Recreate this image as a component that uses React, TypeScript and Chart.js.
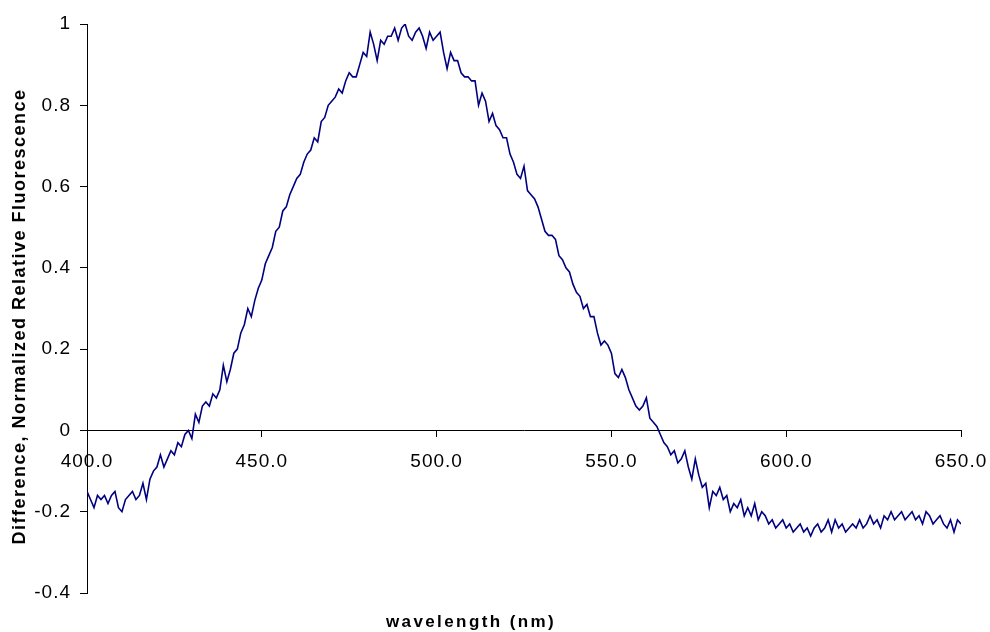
import React, { useEffect, useRef } from "react";
import { Chart, registerables } from "chart.js";

Chart.register(...registerables);

const wavelengths: number[] = [];
for (let w = 400; w <= 650; w++) wavelengths.push(w);

const fluorescence: number[] = [
  // 400-409
  -0.15, -0.17, -0.19, -0.16, -0.17, -0.16, -0.18, -0.16, -0.15, -0.19,
  // 410-419
  -0.20, -0.17, -0.16, -0.15, -0.17, -0.16, -0.13, -0.17, -0.12, -0.10,
  // 420-429
  -0.09, -0.06, -0.09, -0.07, -0.05, -0.06, -0.03, -0.04, -0.01, 0.00,
  // 430-439
  -0.02, 0.04, 0.02, 0.06, 0.07, 0.06, 0.09, 0.08, 0.10, 0.16,
  // 440-449
  0.12, 0.15, 0.19, 0.20, 0.24, 0.26, 0.30, 0.28, 0.32, 0.35,
  // 450-459
  0.37, 0.41, 0.43, 0.45, 0.49, 0.50, 0.54, 0.55, 0.58, 0.60,
  // 460-469
  0.62, 0.63, 0.66, 0.68, 0.69, 0.72, 0.71, 0.76, 0.77, 0.80,
  // 470-479
  0.81, 0.82, 0.84, 0.83, 0.86, 0.88, 0.87, 0.87, 0.90, 0.93,
  // 480-489
  0.92, 0.98, 0.95, 0.91, 0.96, 0.95, 0.97, 0.97, 0.99, 0.96,
  // 490-499
  0.99, 1.00, 0.97, 0.96, 0.98, 0.99, 0.97, 0.94, 0.98, 0.96,
  // 500-509
  0.97, 0.98, 0.93, 0.89, 0.93, 0.91, 0.91, 0.88, 0.87, 0.87,
  // 510-519
  0.86, 0.86, 0.80, 0.83, 0.81, 0.76, 0.78, 0.75, 0.74, 0.72,
  // 520-529
  0.72, 0.68, 0.66, 0.63, 0.62, 0.65, 0.59, 0.58, 0.57, 0.55,
  // 530-539
  0.52, 0.49, 0.48, 0.48, 0.47, 0.43, 0.42, 0.40, 0.39, 0.36,
  // 540-549
  0.34, 0.33, 0.30, 0.31, 0.28, 0.28, 0.24, 0.21, 0.22, 0.21,
  // 550-559
  0.19, 0.14, 0.13, 0.15, 0.13, 0.10, 0.08, 0.06, 0.05, 0.06,
  // 560-569
  0.08, 0.03, 0.02, 0.01, -0.01, -0.03, -0.04, -0.06, -0.05, -0.08,
  // 570-579
  -0.07, -0.05, -0.09, -0.12, -0.07, -0.11, -0.14, -0.13, -0.19, -0.15,
  // 580-589
  -0.16, -0.14, -0.17, -0.16, -0.20, -0.18, -0.19, -0.17, -0.21, -0.19,
  // 590-599
  -0.21, -0.18, -0.22, -0.20, -0.21, -0.23, -0.22, -0.24, -0.23, -0.22,
  // 600-609
  -0.24, -0.23, -0.25, -0.24, -0.23, -0.25, -0.24, -0.26, -0.24, -0.23,
  // 610-619
  -0.25, -0.24, -0.22, -0.25, -0.22, -0.24, -0.23, -0.25, -0.24, -0.23,
  // 620-629
  -0.24, -0.22, -0.24, -0.23, -0.21, -0.23, -0.22, -0.24, -0.21, -0.22,
  // 630-639
  -0.20, -0.22, -0.21, -0.20, -0.22, -0.21, -0.20, -0.22, -0.21, -0.23,
  // 640-650
  -0.20, -0.21, -0.23, -0.22, -0.21, -0.23, -0.24, -0.22, -0.25, -0.22, -0.23,
];

const xTicks = [400, 450, 500, 550, 600, 650];
const yTicks = [-0.4, -0.2, 0, 0.2, 0.4, 0.6, 0.8, 1];
const xTitle = "wavelength (nm)";
const yTitle = "Difference, Normalized Relative Fluorescence";

const FONT = "'Liberation Sans', Arial, sans-serif";

export default function App() {
  const canvasRef = useRef<HTMLCanvasElement | null>(null);

  useEffect(() => {
    const canvas = canvasRef.current;
    if (!canvas) return;

    const titlePlugin = {
      id: "axisTitles",
      beforeDraw(chart: any) {
        chart.ctx.letterSpacing = "1px";
      },
      afterDraw(chart: any) {
        const ctx = chart.ctx as CanvasRenderingContext2D;
        const area = chart.chartArea;
        ctx.save();
        ctx.fillStyle = "#000";
        ctx.font = `bold 17px ${FONT}`;
        (ctx as any).letterSpacing = "2.4px";
        ctx.textAlign = "center";
        ctx.textBaseline = "middle";
        ctx.fillText(xTitle, 471, 622);
        ctx.translate(20, (area.top + area.bottom) / 2 + 8);
        ctx.rotate(-Math.PI / 2);
        ctx.font = `bold 18px ${FONT}`;
        (ctx as any).letterSpacing = "1.5px";
        ctx.fillText(yTitle, 0, 0);
        ctx.restore();
        (ctx as any).letterSpacing = "0px";
      },
    };

    const chart = new Chart(canvas, {
      type: "line",
      data: {
        datasets: [
          {
            data: wavelengths.map((w, i) => ({ x: w, y: fluorescence[i] })),
            borderColor: "#000080",
            borderWidth: 1.6,
            pointRadius: 0,
            fill: false,
            tension: 0,
          },
        ],
      },
      options: {
        animation: false,
        responsive: true,
        maintainAspectRatio: false,
        layout: { padding: { left: 0, top: 24, right: 29, bottom: 39 } },
        plugins: {
          legend: { display: false },
          tooltip: { enabled: false },
          title: { display: false },
        },
        scales: {
          x: {
            type: "linear",
            position: { y: 0 } as any,
            min: 400,
            max: 650,
            afterBuildTicks: (scale: any) => {
              scale.ticks = xTicks.map((v) => ({ value: v }));
            },
            afterFit: (scale: any) => {
              scale.paddingLeft = 0;
              scale.paddingRight = 0;
            },
            ticks: {
              color: "#000",
              font: { family: FONT, size: 19 },
              padding: 14,
              maxRotation: 0,
              autoSkip: false,
              callback: (v: any) => Number(v).toFixed(1),
            },
            grid: {
              drawOnChartArea: false,
              drawTicks: true,
              tickLength: 6,
              color: "#000",
            },
            border: { color: "#000", width: 1 },
          },
          y: {
            type: "linear",
            position: "left",
            min: -0.4,
            max: 1,
            afterBuildTicks: (scale: any) => {
              scale.ticks = yTicks.map((v) => ({ value: v }));
            },
            afterFit: (scale: any) => {
              scale.width = 87;
              scale.paddingTop = 0;
              scale.paddingBottom = 0;
            },
            ticks: {
              color: "#000",
              font: { family: FONT, size: 19 },
              padding: 9,
              autoSkip: false,
              callback: (v: any) => String(Number(Number(v).toFixed(1))),
            },
            grid: {
              drawOnChartArea: false,
              drawTicks: true,
              tickLength: 7,
              color: "#000",
            },
            border: { color: "#000", width: 1 },
          },
        },
      },
      plugins: [titlePlugin],
    });

    return () => chart.destroy();
  }, []);

  return (
    <div style={{ position: "fixed", left: 0, top: 0, width: 990, height: 632, background: "#fff" }}>
      <canvas ref={canvasRef} />
    </div>
  );
}
